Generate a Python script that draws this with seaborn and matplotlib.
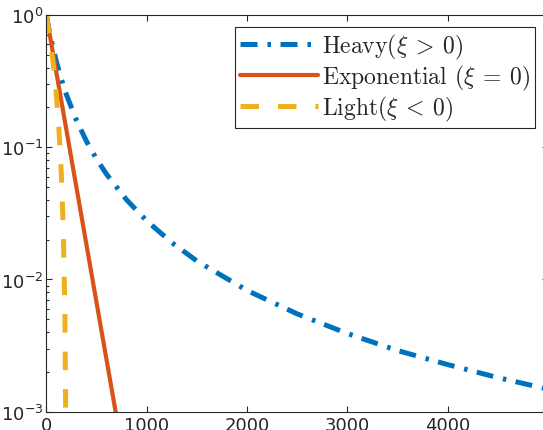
import numpy as np
import pandas as pd
import matplotlib
matplotlib.use('Agg')
import matplotlib.pyplot as plt
import seaborn as sns

# survival curves (log y axis)
heavy_x = [0, 25, 50, 100, 150, 200, 300, 400, 500, 600, 800, 1000, 1250, 1500,
           2000, 2500, 3000, 3500, 4000, 4500, 5000]
heavy_y = [1.0, 0.79, 0.64, 0.444, 0.327, 0.25, 0.16, 0.111, 0.0816, 0.0625, 0.04,
           0.0278, 0.019, 0.0138, 0.00826, 0.00549, 0.0039, 0.0029, 0.00227,
           0.00181, 0.00148]
expo_x = [0, 700]
expo_y = [1.0, 0.00091]
light_x = [0, 25, 50, 75, 100, 125, 150, 170, 185, 195]
light_y = [1.0, 0.766, 0.5625, 0.39, 0.25, 0.14, 0.0625, 0.0225, 0.0056, 0.000625]

labels = [r'Heavy$(\xi\: >\: 0)$', r'Exponential $(\xi\: =\: 0)$', r'Light$(\xi\: <\: 0)$']
colors = ['#0072BD', '#D95319', '#EDB120']

sns.set_style('ticks')
plt.rcParams['font.family'] = ['DejaVu Sans']
plt.rcParams['mathtext.fontset'] = 'cm'
plt.rcParams['axes.edgecolor'] = '#262626'
plt.rcParams['xtick.color'] = '#262626'
plt.rcParams['ytick.color'] = '#262626'

fig = plt.figure(figsize=(5.43, 4.31), dpi=100)
ax = fig.add_axes([0.0853, 0.0425, 0.924, 0.9204])

df_h = pd.DataFrame({'x': heavy_x, 'y': heavy_y})
df_e = pd.DataFrame({'x': expo_x, 'y': expo_y})
df_l = pd.DataFrame({'x': light_x, 'y': light_y})

sns.lineplot(data=df_h, x='x', y='y', ax=ax, color=colors[0], lw=3.6,
             linestyle=(0, (3.4, 2.0, 0.7, 1.9)), label=labels[0])
sns.lineplot(data=df_e, x='x', y='y', ax=ax, color=colors[1], lw=3.0,
             label=labels[1])
sns.lineplot(data=df_l, x='x', y='y', ax=ax, color=colors[2], lw=3.6,
             linestyle=(0, (3.7, 3.8)), label=labels[2])

ax.set_yscale('log')
ax.set_xlim(0, 5000)
ax.set_ylim(1e-3, 1)
ax.set_xticks([0, 1000, 2000, 3000, 4000])
ax.set_yticks([1e-3, 1e-2, 1e-1, 1])
ax.set_xlabel('')
ax.set_ylabel('')
for s in ax.spines.values():
    s.set_visible(True)
    s.set_linewidth(0.8)
ax.tick_params(which='both', direction='in', top=True, right=True, labelsize=13, width=0.8)
ax.tick_params(which='major', length=4.5)
ax.tick_params(which='minor', length=2.5)
ax.tick_params(axis='y', pad=2)
ax.tick_params(axis='x', pad=3)

leg = ax.legend(loc='upper right', bbox_to_anchor=(535 / 543, 1 - 28 / 431),
                bbox_transform=fig.transFigure, borderaxespad=0,
                prop={'family': 'cmr10', 'size': 17}, fancybox=False,
                framealpha=1, edgecolor='#262626', handlelength=3.3,
                handletextpad=0.2, labelspacing=0.08, borderpad=0.2)
leg.get_frame().set_linewidth(0.8)

fig.savefig('out.png', dpi=100)
